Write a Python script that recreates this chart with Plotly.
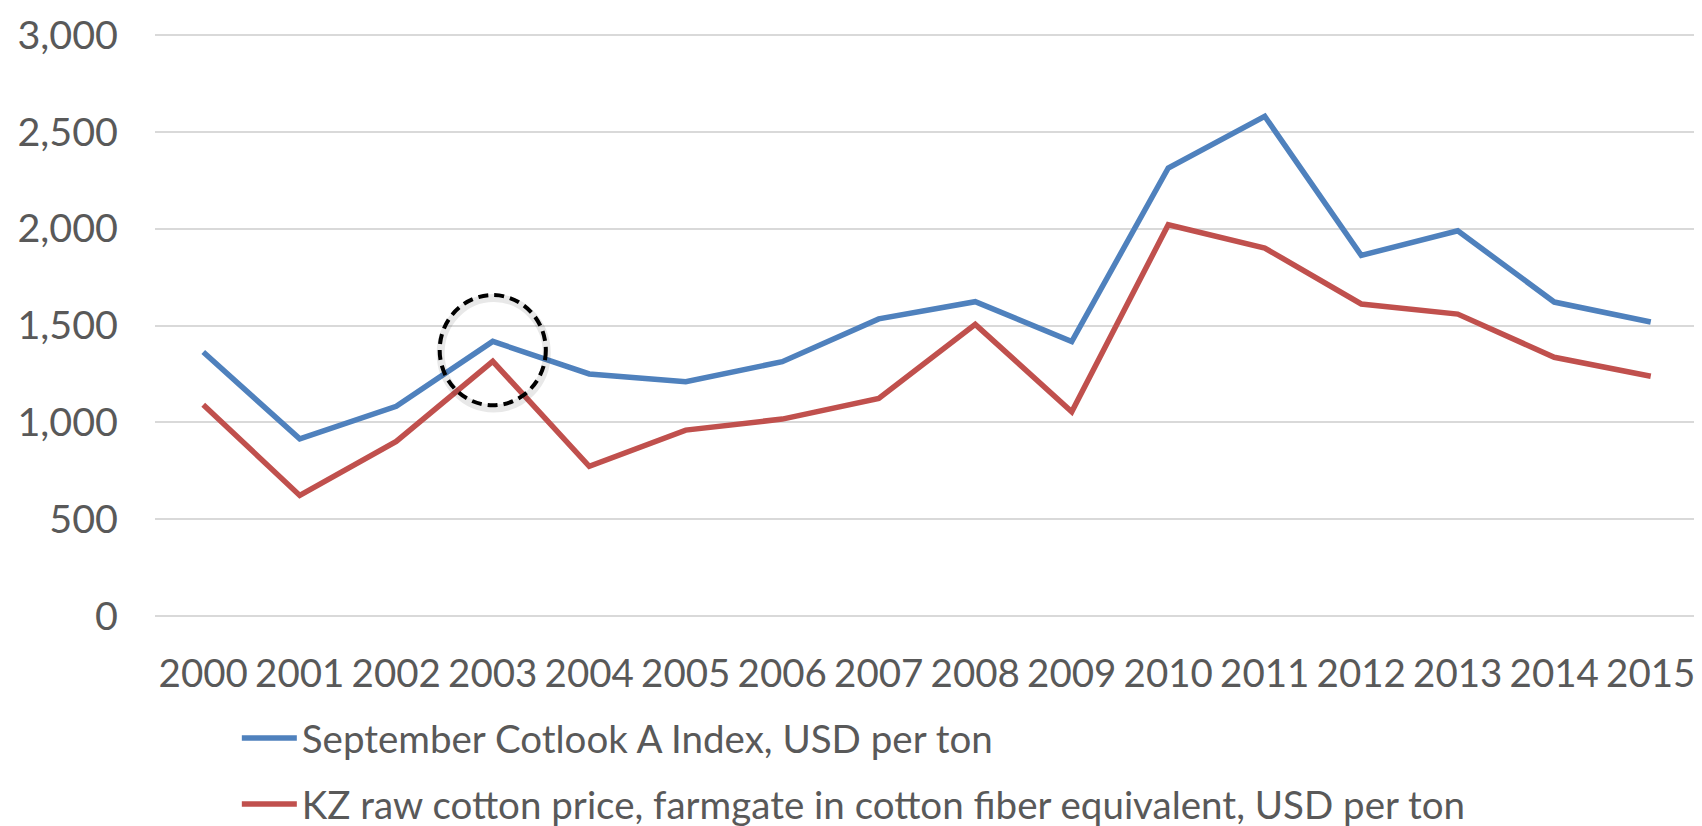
import plotly.graph_objects as go

BLUE = "#4F81BD"
RED = "#C0504D"
TEXT = "#595959"
GRID = "#D9D9D9"
FONT = "Lato"

years = [str(y) for y in range(2000, 2016)]
cotlook = [1363, 915, 1083, 1418, 1250, 1210, 1313, 1534, 1623, 1417,
           2313, 2580, 1862, 1989, 1621, 1518]
kz_price = [1091, 623, 902, 1315, 773, 960, 1017, 1124, 1506, 1055,
            2020, 1900, 1611, 1559, 1336, 1238]

name_cotlook = "September Cotlook A Index, USD per ton"
name_kz = "KZ raw cotton price, farmgate in cotton fiber equivalent, USD per ton"

fig = go.Figure()
fig.add_trace(go.Scatter(x=years, y=cotlook, name=name_cotlook, mode="lines",
                         line=dict(color=BLUE, width=5.5), legendgroup="a"))
fig.add_trace(go.Scatter(x=years, y=kz_price, name=name_kz, mode="lines",
                         line=dict(color=RED, width=5.5), legendgroup="b"))

# highlight around 2003 (soft shadow + dashed circle)
fig.add_shape(type="circle", xref="x", yref="y", x0=2.46, x1=3.56, y0=1072, y1=1642,
              line=dict(color="rgba(0,0,0,0.09)", width=8))
fig.add_shape(type="circle", xref="x", yref="y", x0=2.45, x1=3.55, y0=1088, y1=1657,
              line=dict(color="black", width=4, dash="10px,6px"))

fig.update_layout(
    width=1702, height=826,
    paper_bgcolor="white", plot_bgcolor="white",
    font=dict(family=FONT, color=TEXT, size=37),
    margin=dict(l=147, r=11, t=24, b=215, autoexpand=False),
    showlegend=True,
    legend=dict(orientation="v", x=0.053, xanchor="left", y=-0.149, yanchor="top",
                font=dict(size=38.5, color=TEXT), itemwidth=55, tracegroupgap=13,
                bgcolor="rgba(0,0,0,0)"),
)
fig.update_xaxes(type="category", range=[-0.5, 15.5], showgrid=False, showline=False,
                 ticks="", tickfont=dict(size=38.5, color=TEXT), ticklabelstandoff=28)
fig.update_yaxes(range=[-15, 3015], dtick=500, tickformat=",", showgrid=True,
                 gridcolor=GRID, gridwidth=1.5, zeroline=False, showline=False,
                 ticks="", tickfont=dict(size=39.5, color=TEXT), ticklabelstandoff=36)

fig.write_html("out.html")
